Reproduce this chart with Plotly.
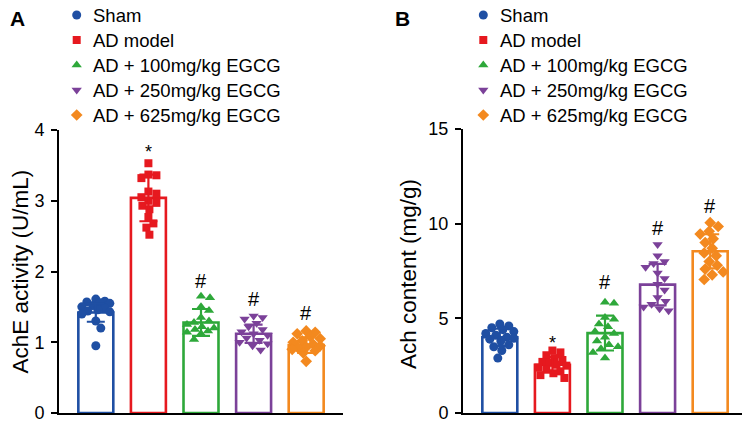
import plotly.graph_objects as go

groups = ['Sham', 'AD model', 'AD + 100mg/kg EGCG', 'AD + 250mg/kg EGCG', 'AD + 625mg/kg EGCG']
colors = ['#1f4fa3', '#e6191f', '#2ea83a', '#7b4199', '#f3891f']
symbols = ['circle', 'square', 'triangle-up', 'triangle-down', 'diamond']
msizes = [9, 8, 9, 9, 9]

# panel A: AchE activity (U/mL)
ache_points = [
    [1.61, 1.58, 1.57, 1.56, 1.55, 1.52, 1.50, 1.48, 1.46, 1.44, 1.43, 1.40, 1.30, 1.20, 0.95],
    [3.53, 3.37, 3.36, 3.32, 3.13, 3.10, 3.00, 2.97, 2.93, 2.88, 2.77, 2.68, 2.62, 2.52, 3.05],
    [1.65, 1.63, 1.50, 1.45, 1.35, 1.30, 1.28, 1.25, 1.22, 1.20, 1.18, 1.16, 1.14, 1.12, 1.04],
    [1.37, 1.35, 1.33, 1.27, 1.22, 1.18, 1.15, 1.12, 1.10, 1.06, 1.03, 1.00, 0.98, 0.95, 0.89],
    [1.16, 1.14, 1.12, 1.08, 1.05, 1.02, 1.00, 0.97, 0.95, 0.93, 0.92, 0.90, 0.88, 0.85, 0.73],
]
ache_mean = [1.42, 3.04, 1.28, 1.12, 0.96]
ache_sd = [0.13, 0.33, 0.19, 0.13, 0.11]
ache_sig = ['', '*', '#', '#', '#']
ache_sig_y = [None, 3.69, 1.87, 1.61, 1.42]

# panel B: Ach content (mg/g)
ach_points = [
    [4.70, 4.60, 4.50, 4.40, 4.30, 4.20, 4.10, 4.00, 3.95, 3.90, 3.80, 3.60, 3.50, 3.30, 2.90],
    [3.30, 3.20, 3.05, 2.90, 2.80, 2.70, 2.65, 2.55, 2.50, 2.40, 2.30, 2.20, 2.10, 2.00, 1.85],
    [5.85, 5.80, 5.05, 4.95, 4.70, 4.55, 4.30, 4.20, 4.00, 3.80, 3.60, 3.50, 3.40, 3.20, 2.90],
    [8.90, 8.30, 8.00, 7.90, 7.70, 7.40, 7.10, 6.80, 6.50, 6.10, 5.90, 5.75, 5.60, 5.50, 5.40],
    [10.05, 9.85, 9.60, 9.45, 9.20, 9.00, 8.70, 8.45, 8.30, 8.00, 7.80, 7.60, 7.45, 7.30, 7.05],
]
ach_mean = [4.00, 2.55, 4.22, 6.78, 8.54]
ach_sd = [0.45, 0.40, 0.92, 1.10, 0.90]
ach_sig = ['', '*', '#', '#', '#']
ach_sig_y = [None, 3.71, 6.90, 9.77, 10.95]

# the page body has an 8px margin, so the figure is drawn 8px in and 8px smaller
OFF = 8
W, H = 750 - OFF, 424 - OFF
FONT = 'Arial, Liberation Sans, sans-serif'
XR = [-0.7, 4.7]
BARW = 0.665


def px(x):
    return (x - OFF) / W


def py(y):
    return 1 - (y - OFF) / H


def swarm(values, px_per_unit, diam, max_off):
    # simple beeswarm in pixel space, returns offsets in px
    placed = []
    offs = []
    for v in values:
        yp = v * px_per_unit
        best, best_d = 0, -1
        found = False
        for k in range(0, int(max_off) + 1):
            for o in ([0] if k == 0 else [k, -k]):
                dmin = min([((o - po) ** 2 + (yp - pp) ** 2) ** 0.5 for po, pp in placed] or [99])
                if dmin >= diam * 0.95:
                    best = o
                    found = True
                    break
                if dmin > best_d:
                    best, best_d = o, dmin
            if found:
                break
        placed.append((best, yp))
        offs.append(best)
    return offs


def add_panel(fig, points, means, sds, sig, sig_y, xa, ya, px_y, px_x):
    fig.add_trace(go.Bar(
        x=list(range(5)), y=means, width=BARW,
        marker=dict(color='white', line=dict(color=colors, width=2.6)),
        xaxis=xa, yaxis=ya, showlegend=False, hoverinfo='skip'))
    for i, vals in enumerate(points):
        offs = swarm(vals, px_y, msizes[i], 14)
        fig.add_trace(go.Scatter(
            x=[i + o / px_x for o in offs], y=vals, mode='markers',
            marker=dict(symbol=symbols[i], size=msizes[i], color=colors[i], line_width=0),
            name=groups[i], showlegend=False, xaxis=xa, yaxis=ya))
    for i in range(5):
        fig.add_trace(go.Scatter(
            x=[i], y=[means[i]], mode='markers', marker=dict(size=1, opacity=0),
            error_y=dict(type='data', array=[sds[i]], color=colors[i], thickness=2.2, width=9),
            xaxis=xa, yaxis=ya, showlegend=False, hoverinfo='skip'))
    for i in range(5):
        if sig[i]:
            fig.add_annotation(x=i, y=sig_y[i], xref=xa, yref=ya, text=sig[i], showarrow=False,
                               font=dict(size=20 if sig[i] == '#' else 18, color='black', family=FONT),
                               xanchor='center', yanchor='middle')


fig = go.Figure()

# pixel geometry (page coords) of the two plot areas
ax_a = (59, 343, 130, 413)
ax_b = (463, 747, 129, 413)

add_panel(fig, ache_points, ache_mean, ache_sd, ache_sig, ache_sig_y, 'x', 'y',
          (ax_a[3] - ax_a[2]) / 4, (ax_a[1] - ax_a[0]) / (XR[1] - XR[0]))
add_panel(fig, ach_points, ach_mean, ach_sd, ach_sig, ach_sig_y, 'x2', 'y2',
          (ax_b[3] - ax_b[2]) / 15, (ax_b[1] - ax_b[0]) / (XR[1] - XR[0]))

# hand-made legends (one per panel) on a hidden pixel-scaled overlay axis
leg_marker_x = [76.7, 483.3]
leg_text_x = [91, 498]
leg_row_y = [15 + 25 * i for i in range(5)]
for i in range(5):
    fig.add_trace(go.Scatter(
        x=leg_marker_x, y=[leg_row_y[i]] * 2, mode='markers', cliponaxis=False,
        marker=dict(symbol=symbols[i], size=msizes[i], color=colors[i], line_width=0),
        xaxis='x3', yaxis='y3', showlegend=False, hoverinfo='skip'))
    for lx in leg_text_x:
        fig.add_annotation(x=px(lx), y=py(leg_row_y[i] + 0.5), xref='paper', yref='paper',
                           text=groups[i], showarrow=False, xanchor='left', yanchor='middle',
                           font=dict(size=18.5, color='black', family=FONT))

xstyle = dict(range=XR, showline=True, linewidth=2, linecolor='black', showticklabels=False,
              ticks='', showgrid=False, zeroline=False, fixedrange=True)
ystyle = dict(showline=True, linewidth=2, linecolor='black', ticks='outside', ticklen=6,
              tickwidth=2, tickcolor='black', tickfont=dict(size=18, color='black', family=FONT),
              showgrid=False, zeroline=False, ticklabelstandoff=3)

fig.update_layout(
    width=W, height=H, margin=dict(l=0, r=0, t=0, b=0, autoexpand=False),
    paper_bgcolor='white', plot_bgcolor='rgba(0,0,0,0)', font=dict(family=FONT), showlegend=False,
    xaxis=dict(domain=[px(ax_a[0]), px(ax_a[1])], anchor='y', **xstyle),
    yaxis=dict(domain=[py(ax_a[3]), py(ax_a[2])], anchor='x', range=[0, 4],
               tickvals=[0, 1, 2, 3, 4], **ystyle),
    xaxis2=dict(domain=[px(ax_b[0]), px(ax_b[1])], anchor='y2', **xstyle),
    yaxis2=dict(domain=[py(ax_b[3]), py(ax_b[2])], anchor='x2', range=[0, 15],
                tickvals=[0, 5, 10, 15], **ystyle),
    xaxis3=dict(domain=[0, 1], range=[OFF, 750], visible=False, anchor='y3'),
    yaxis3=dict(domain=[0, 1], range=[424, OFF], visible=False, anchor='x3'),
)

# y axis titles and panel letters
fig.add_annotation(x=px(19.5), y=py(272), xref='paper', yref='paper', text='AchE activity (U/mL)',
                   textangle=-90, showarrow=False, xanchor='center', yanchor='middle',
                   font=dict(size=22.5, color='black', family=FONT))
fig.add_annotation(x=px(408), y=py(274), xref='paper', yref='paper', text='Ach content (mg/g)',
                   textangle=-90, showarrow=False, xanchor='center', yanchor='middle',
                   font=dict(size=22.5, color='black', family=FONT))
fig.add_annotation(x=px(17), y=py(18.5), xref='paper', yref='paper', text='<b>A</b>',
                   showarrow=False, xanchor='center', yanchor='middle',
                   font=dict(size=21, color='black', family=FONT))
fig.add_annotation(x=px(402), y=py(18.5), xref='paper', yref='paper', text='<b>B</b>',
                   showarrow=False, xanchor='center', yanchor='middle',
                   font=dict(size=21, color='black', family=FONT))

fig.write_html("out.html")
